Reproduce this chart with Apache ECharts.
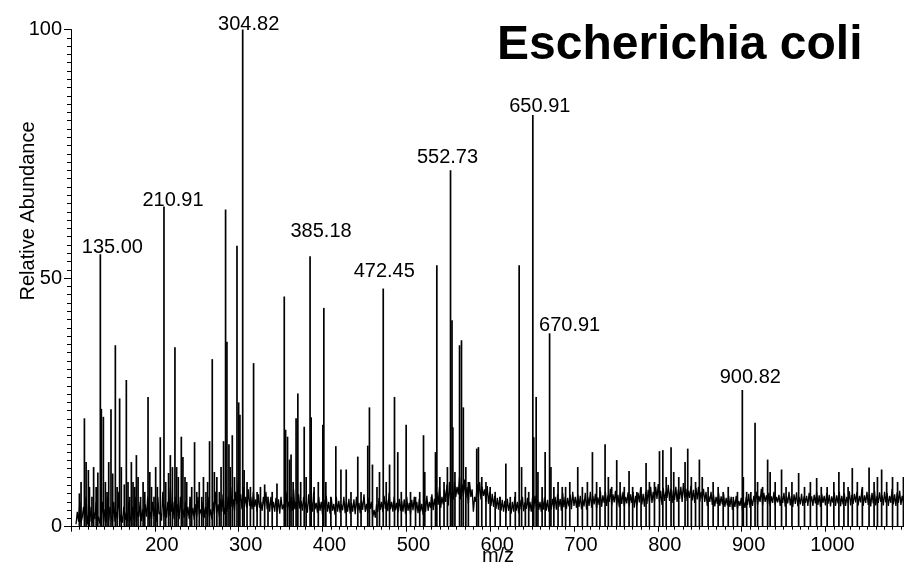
<!DOCTYPE html>
<html>
<head>
<meta charset="utf-8">
<script src="https://cdn.jsdelivr.net/npm/echarts@6/dist/echarts.min.js"></script>
<style>
html, body { margin: 0; padding: 0; background: #fff; }
#box { width: 904px; height: 566px; }
</style>
</head>
<body>
<div id="box"></div>
<script>
// baseline noise, read every 1.5 m/z starting at 106
var noiseStart = 106;
var noiseStep = 1.5;
var noise = [
	0.5, 3, 1, 5, 0.8, 2, 4, 1, 6, 0.5, 2.5, 1, 4, 0.7, 3, 1.5, 5, 1, 2, 0.6,
	2, 5, 1, 3.5, 0.8, 6, 1.2, 4, 2, 0.9, 5, 1, 3, 1.5, 7, 1, 2.5, 0.8, 4, 1.3,
	3, 1, 5, 2, 0.9, 4, 1.5, 6, 1, 3, 2, 5, 1.1, 3.5, 1, 4.5, 2, 6, 1.5, 3,
	1.5, 5, 2, 4, 1, 6, 2.5, 3, 1.2, 7, 2, 4.5, 1.8, 5, 2.2, 8, 3, 5, 1.5, 6,
	2, 4.5, 1.5, 6, 2.5, 3.5, 1.8, 5, 2, 4, 1.5, 5.5, 2.2, 3.8, 1.4, 4.5, 2, 6, 2.5, 3.5,
	2, 5, 1.8, 4, 2.6, 6, 2, 3.5, 1.5, 5, 2.4, 7, 2.8, 4.5, 2, 5.5, 3, 6.5, 2.5, 4,
	3, 6, 3.5, 8, 4, 5.5, 3.2, 7, 4.5, 9, 5, 6.5, 3.5, 8, 4, 6, 3.8, 7.5, 4.2, 6,
	3.5, 7, 4, 5.5, 3, 6.5, 3.8, 5, 3.2, 6, 4, 7, 3.5, 5.5, 3, 6, 3.4, 5, 3, 5.8,
	3, 5.5, 2.6, 6, 3.5, 4.5, 3, 7, 3.8, 5, 2.8, 6, 3.2, 7.5, 3.5, 5, 3, 6.5, 3.6, 5.2,
	3.2, 6, 3.6, 5, 2.8, 6.5, 3.4, 5.5, 3, 7, 3.5, 4.8, 2.8, 6, 3.2, 5, 2.5, 5.5, 3.4, 6.2,
	3, 5, 2.6, 5.8, 3.2, 4.6, 2.4, 6, 3, 5.2, 2.8, 4.5, 3.3, 6, 2.7, 5, 3, 5.6, 2.6, 4.8,
	3, 5.5, 2.5, 6, 3.2, 4.8, 2.7, 5.2, 3.4, 6.5, 3, 4.6, 2.8, 5.8, 3.6, 5, 2, 3.4, 1.8, 4.5,
	3, 5.8, 3.4, 5, 2.9, 6.2, 3.6, 5.4, 3.1, 6.8, 3.5, 5, 3, 6, 3.3, 4.8, 2.8, 5.6, 3.2, 5.2,
	3, 5.5, 2.6, 6, 3.2, 4.8, 2.5, 5.4, 3.3, 6, 3, 5, 2.7, 5.6, 3.1, 4.6, 2.4, 5.8, 3, 6.2,
	3.2, 5, 3.8, 6.5, 3.3, 5.6, 4, 7, 4.4, 8, 3.8, 6, 4.5, 7.5, 5, 8.5, 4.2, 9, 5, 7,
	5.5, 9, 6, 8, 6.5, 10, 5.5, 8.5, 6.2, 9.5, 5.8, 8, 4.5, 9, 6, 7.5, 3, 6, 5, 8.5,
	6, 9, 5.5, 8, 6.2, 7.5, 5, 8.2, 4.6, 7, 4.2, 6.6, 4, 6.2, 3.6, 5.8, 3.4, 6, 3.2, 5.4,
	3, 5.2, 2.8, 5.6, 3.2, 4.8, 2.6, 5, 3, 6, 3.2, 5, 2.7, 5.4, 3.5, 6, 3.1, 4.9, 3.6, 5.8,
	3.2, 5, 3, 5.8, 3.6, 6.2, 4, 5.4, 3.4, 5, 3, 5.8, 3.4, 6, 3.2, 5.4, 3, 5.2, 3.5, 5.6,
	3.8, 6, 3.4, 6.6, 4, 5.6, 3.2, 6.8, 3.9, 6, 3.6, 5.8, 4.1, 6.4, 3.5, 7, 4.2, 6, 3.8, 6.5,
	4, 6.2, 3.5, 5.5, 4.1, 6.8, 3.4, 6, 4.2, 7, 3.8, 6.2, 4.5, 6.6, 3.7, 5.9, 4.4, 7.2, 4, 6.3,
	4.8, 7, 4.2, 6.3, 5, 7.6, 4.3, 6.5, 4.9, 7.2, 4.4, 6.4, 3.9, 6.8, 4.6, 7, 4.1, 6, 4.7, 6.9,
	4.2, 6.5, 4.8, 7, 3.8, 6.2, 4.3, 6.8, 4.9, 7.8, 4.5, 6.6, 4, 7, 4.6, 7.4, 5, 8, 4.8, 7,
	5, 8, 5.6, 8.6, 5, 7.2, 4.4, 7.8, 5.2, 7, 5.8, 8.4, 5.2, 7.6, 4.8, 7.3, 5.4, 8, 5, 7.5,
	5.6, 8, 5, 8.8, 5.8, 7.6, 5.2, 7.2, 5.8, 8.2, 5.3, 7.4, 4.8, 7.8, 5.5, 8, 5, 7, 5.6, 7.6,
	5, 7, 4.2, 6.2, 5, 7, 4.4, 6.4, 4.1, 6, 4.6, 6.8, 4.2, 6.1, 4.5, 6.6, 4, 5.8, 4.3, 6.2,
	4, 6, 3.4, 5.4, 4, 6.2, 3.6, 5.2, 4.2, 5.8, 3.2, 5, 3.8, 6, 4.4, 6.6, 3.8, 5.6, 4.2, 6.2,
	5, 7, 4.4, 6.2, 5, 7.6, 4.3, 6.8, 5, 6.3, 4.6, 6.8, 4.2, 6.1, 4.8, 7, 4.4, 6, 4.9, 6.4,
	4.2, 6.2, 4.8, 6.8, 4, 6.1, 4.7, 7, 4.3, 6.2, 4, 6.5, 4.6, 6.9, 4.1, 6, 4.5, 6.6, 4.2, 6.1,
	4.8, 6.2, 4.2, 6.8, 4.9, 6.1, 4.2, 6.4, 4.7, 7, 4.4, 6.3, 4, 6.6, 4.8, 6.2, 4.3, 6.8, 4.6, 6.4,
	4.1, 6.1, 4.8, 6.9, 4.2, 6.3, 4.7, 7, 4.1, 6.2, 4.5, 6.7, 4.2, 6, 4.8, 7.1, 4.3, 6.4, 4.6, 6.6,
	4.9, 7, 4.3, 6.2, 4.9, 7.6, 4.2, 6.3, 4.8, 7, 4.4, 6.5, 4.1, 6.8, 4.7, 7.2, 4.3, 6.2, 4.8, 6.9,
	5, 6.3, 4.3, 7, 4.9, 6.8, 4.2, 6.2, 4.8, 7.6, 4.5, 6.5, 4.2, 6.9, 4.8, 7.2, 4.4, 6.2, 4.9, 7,
	6, 4.8, 6.5
];

// peaks [m/z, relative abundance]
var peaks = [
	[110, 6.7], [112, 9], [116, 21.8], [118, 13], [120.7, 11.4], [122, 8], [125, 6],
	[127, 12], [130, 8], [132, 10.9], [135.00, 54.8], [136.2, 23.7], [138.6, 22.1],
	[141, 9], [143, 7], [145, 13], [147.7, 23.6], [149.7, 10.7], [152.9, 36.5], [155, 8],
	[158, 25.8], [160, 12], [163.6, 8.5], [166, 29.5], [168, 9], [170, 6], [172, 13],
	[174, 9], [176, 8], [178, 14.4], [180, 10], [183, 6], [186, 9], [188, 7],
	[191.9, 26.1], [194, 11], [196, 8], [199, 6], [201, 12], [203, 8], [206.5, 18],
	[210.91, 64.4], [213, 9], [216.4, 10.8], [218.5, 14.4], [221, 12], [224, 36.1],
	[226, 12], [228, 10], [231.6, 18.1], [233.5, 14], [236, 10], [238, 9], [242, 6],
	[244, 8], [247.4, 17], [250, 7], [253, 9], [256, 6], [258, 10], [261, 7], [263, 9],
	[265.3, 17.2], [268.5, 33.7], [271, 11], [274, 10], [277, 7], [279, 12], [282, 17.2],
	[284.4, 63.8], [286, 37.2], [288.4, 16.6], [290, 12], [292.4, 18.4], [295, 10],
	[298, 56.5], [300, 25], [301.5, 22.5], [304.82, 100], [306.5, 11.4], [310, 9],
	[314, 8], [317.8, 32.9], [322, 7], [326, 8], [331, 8.5], [335, 6], [340, 7],
	[345.7, 8.7], [354.4, 46.3], [356, 19.5], [358.3, 18.1], [360.7, 13.5], [362.5, 14.5],
	[365, 9], [368.5, 21.8], [370.6, 26.8], [374, 9], [378.2, 20.1], [380.5, 10],
	[385.18, 54.4], [386.5, 22], [390, 8], [395, 9], [400.4, 20.5], [401.6, 44], [404, 9],
	[410, 6], [415.9, 16.2], [422, 11.5], [428.3, 11.5], [434, 7], [442.1, 14.1], [446, 7],
	[454, 16.3], [456, 24], [459.6, 12.5], [465, 8], [468, 11], [472.45, 47.9], [476, 9],
	[480, 12.5], [485.9, 26.1], [489.8, 15], [494, 7], [499.8, 20.5], [505, 7], [511, 6],
	[516, 7], [520.5, 18.4], [522, 11], [530, 6], [534.8, 15], [536.4, 52.6], [540, 10],
	[545, 9], [549, 12], [552.73, 71.7], [554.5, 41.5], [555.5, 20], [558, 11],
	[563.5, 36.5], [565.8, 37.5], [568, 24], [571, 12], [574, 9], [584, 15.7], [586, 16],
	[590, 10], [595, 9], [600, 8], [606, 7], [612, 6], [618.7, 12.7], [624, 6], [630, 7],
	[634.6, 52.6], [637.5, 12], [642, 8], [646, 7], [650.91, 82.8], [652, 18],
	[654.9, 26.1], [657, 11], [662, 8], [665.6, 15], [670.91, 38.9], [672.5, 12],
	[676, 8], [681, 9], [686, 8], [690, 8], [695, 9], [704.5, 12], [710, 8], [716, 9],
	[722, 15], [727, 9], [731, 8], [737.1, 16.6], [741, 10], [745, 8], [751, 13.4],
	[755, 9], [760, 8], [765.7, 11.2], [770, 8], [775, 7], [780, 8], [786, 12.8],
	[790, 9], [796, 9], [802, 15.2], [806, 15.4], [810, 10], [815.8, 16], [819, 11],
	[825, 10], [832.5, 13], [835.7, 15.7], [840, 10], [845, 9], [849.6, 13.5], [853, 10],
	[860, 8], [866, 9], [872, 8], [878, 7], [884, 8], [890, 6], [895, 7], [900.82, 27.5],
	[902, 10], [906, 7], [911, 7], [916, 20.9], [919, 9], [925, 8], [931, 13.5], [934, 11],
	[940, 9], [947.6, 11.5], [953, 8], [960, 9], [968, 10.8], [975, 8], [982, 9],
	[989.5, 9.8], [995, 8], [1002, 8], [1010, 9], [1016, 11], [1022, 9], [1027, 8],
	[1032, 11.8], [1038, 9], [1044, 8], [1052, 11.9], [1058, 9], [1062, 10], [1067, 11.5],
	[1073, 9], [1080, 10], [1086, 9], [1093, 10]
];

// peaks that carry an m/z label
var labelledMz = [135.00, 210.91, 304.82, 385.18, 472.45, 552.73, 650.91, 670.91, 900.82];

// where each label sits relative to its peak top (px)
var labelShift = {
	'135.00': [12, 3], '210.91': [9, 4], '304.82': [6, 5], '385.18': [11, -15],
	'472.45': [1, -7], '552.73': [-3, -3], '650.91': [7, 1], '670.91': [20, 2],
	'900.82': [8, -2]
};

var font = 'Liberation Sans, Arial, sans-serif';

var box = document.getElementById('box');
var myChart = echarts.init(box, null, { renderer: 'canvas' });

var noiseData = [];
for (var i = 0; i < noise.length; i++) {
	noiseData.push([noiseStart + i * noiseStep, noise[i]]);
}

var peakData = [];
for (var j = 0; j < peaks.length; j++) {
	var item = { value: peaks[j] };
	if (labelledMz.indexOf(peaks[j][0]) >= 0) {
		var key = peaks[j][0].toFixed(2);
		item.label = { show: true, offset: labelShift[key] };
	}
	peakData.push(item);
}

var option = {
	animation: false,
	backgroundColor: '#fff',
	grid: { left: 71, right: -5.3, top: 29.5, bottom: 39.3, outerBoundsMode: 'none', containLabel: false },
	xAxis: {
		type: 'value',
		min: 100,
		max: 1100,
		interval: 100,
		axisLine: { lineStyle: { color: '#000', width: 1 } },
		axisTick: { length: 5, lineStyle: { color: '#000' } },
		minorTick: { show: true, splitNumber: 10, length: 3, lineStyle: { color: '#000' } },
		splitLine: { show: false },
		axisLabel: {
			color: '#000', fontFamily: font, fontSize: 20, margin: 9,
			padding: [0, 0, 0, 14],
			formatter: function (v) { return (v > 100 && v < 1100) ? String(v) : ''; }
		}
	},
	yAxis: {
		type: 'value',
		min: 0,
		max: 100,
		interval: 50,
		axisLine: { show: true, lineStyle: { color: '#000', width: 1 } },
		axisTick: { show: true, length: 7, lineStyle: { color: '#000' } },
		minorTick: { show: true, splitNumber: 30, length: 4, lineStyle: { color: '#000' } },
		splitLine: { show: false },
		axisLabel: { color: '#000', fontFamily: font, fontSize: 20, margin: 9, padding: [10, 0, 0, 0] }
	},
	graphic: [
		{
			type: 'text', left: 497, top: 22,
			style: { text: 'Escherichia coli', font: 'bold 48px ' + font, fill: '#000' }
		},
		{
			type: 'text', x: 28, y: 211, rotation: Math.PI / 2,
			style: { text: 'Relative Abundance', font: '20px ' + font, fill: '#000', align: 'center', verticalAlign: 'middle' }
		},
		{
			type: 'text', x: 498, y: 556,
			style: { text: 'm/z', font: '20px ' + font, fill: '#000', align: 'center', verticalAlign: 'middle' }
		}
	],
	series: [
		{
			name: 'noise',
			type: 'line',
			data: noiseData,
			symbol: 'none',
			lineStyle: { color: '#000', width: 1.3 },
			z: 3
		},
		{
			name: 'peaks',
			type: 'bar',
			data: peakData,
			barWidth: 1.7,
			itemStyle: { color: '#000' },
			label: {
				show: false,
				position: 'top',
				distance: 0,
				color: '#000',
				fontFamily: font,
				fontSize: 20,
				formatter: function (p) { return p.value[0].toFixed(2); }
			},
			z: 2
		}
	]
};

myChart.setOption(option);
</script>
</body>
</html>
